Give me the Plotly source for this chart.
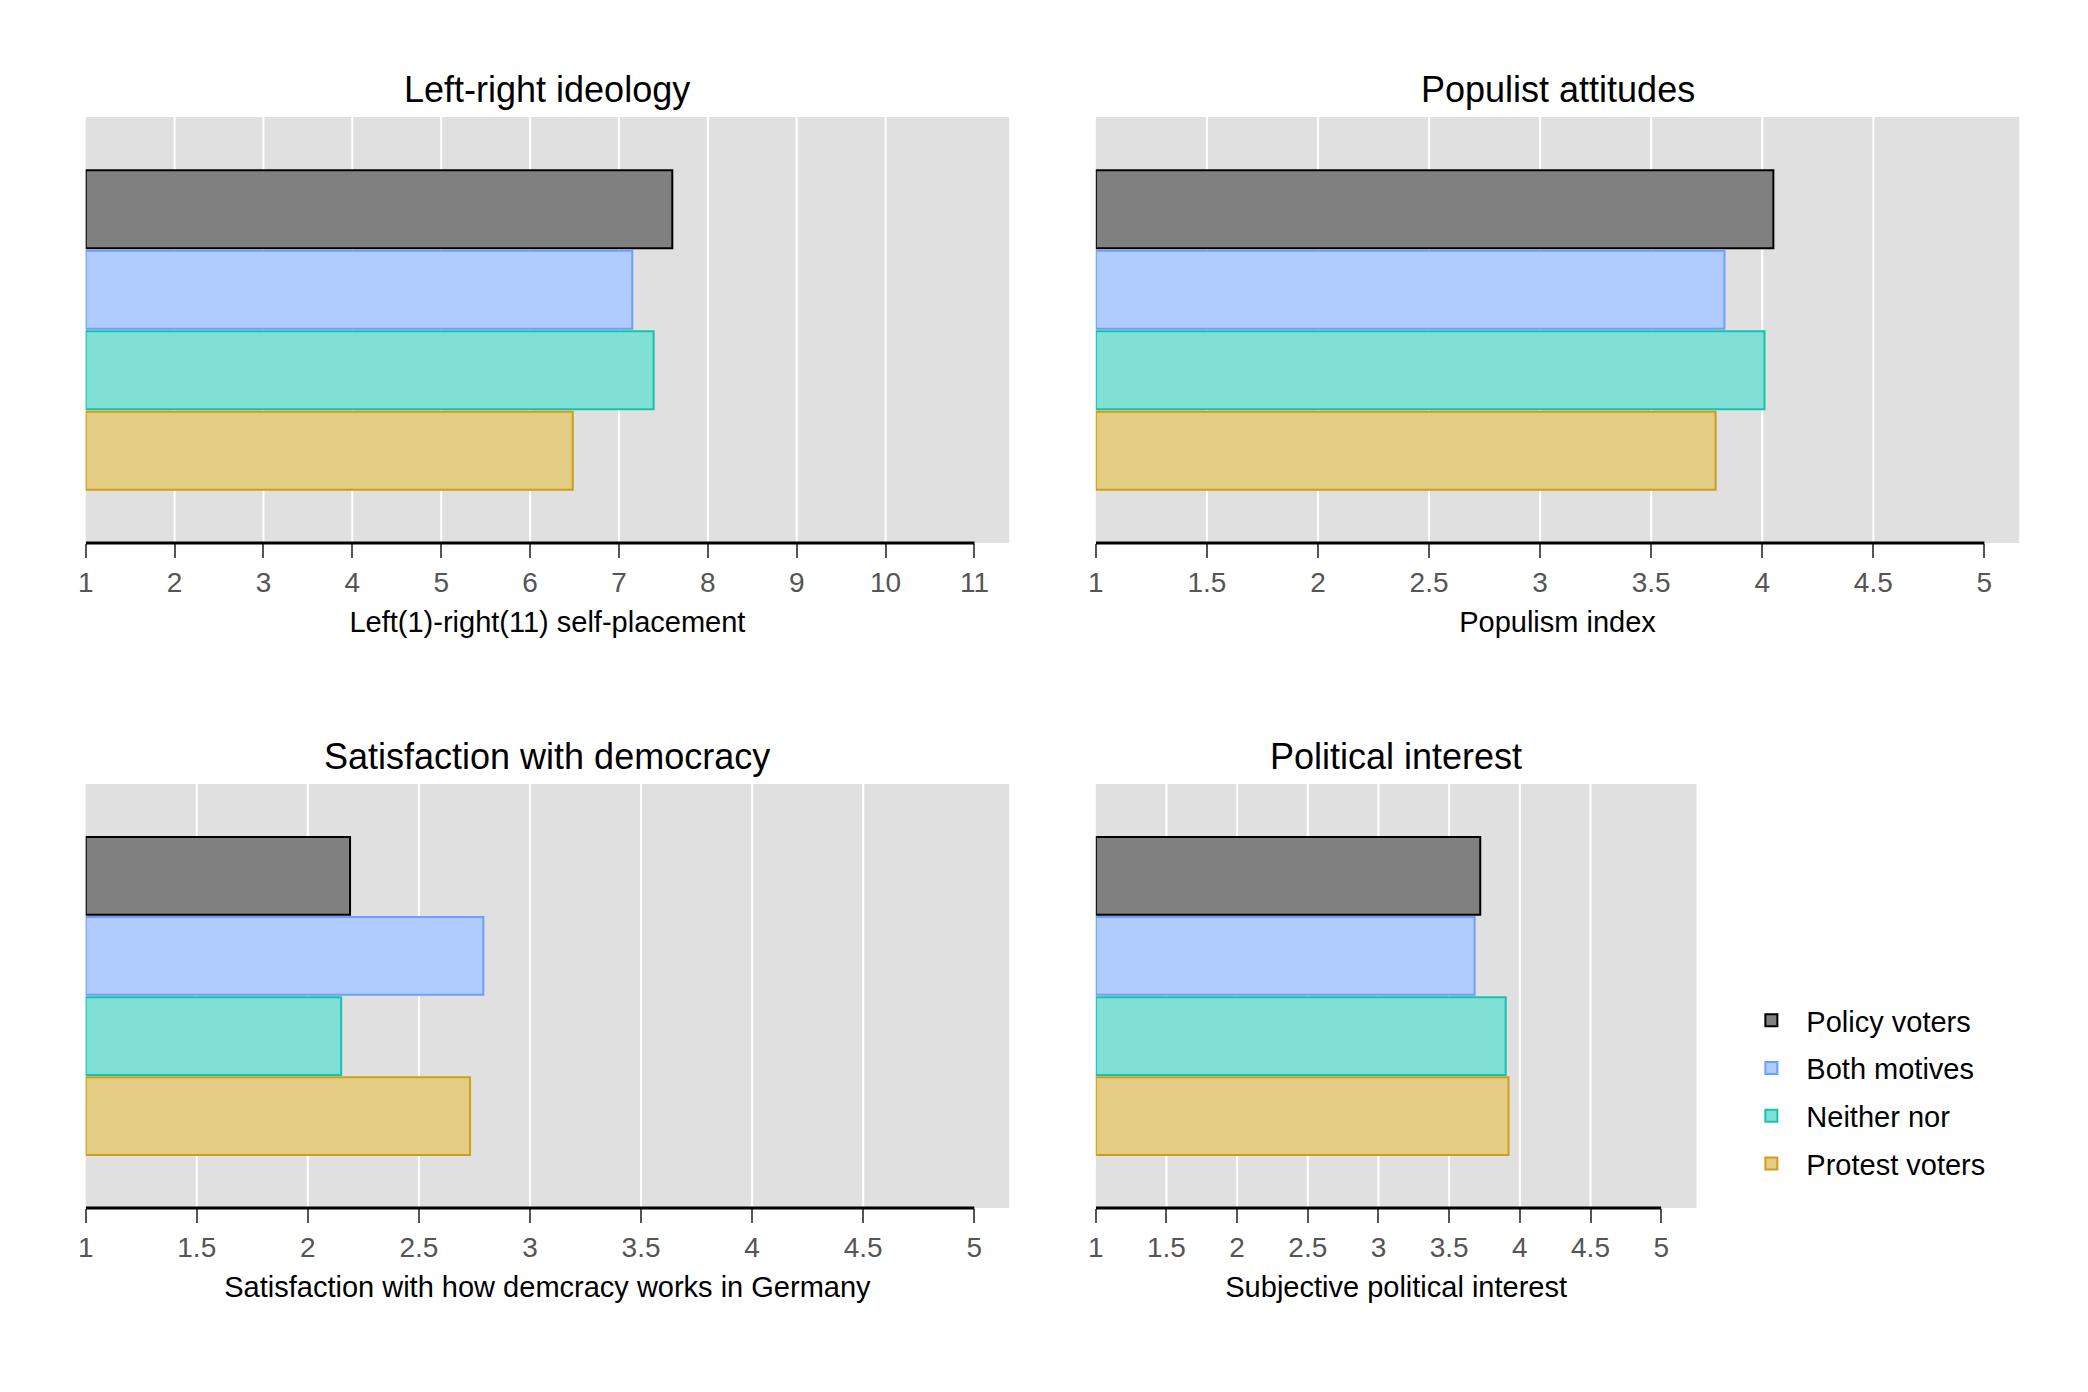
import plotly.graph_objects as go

# ---------------- data ----------------
groups = ["Policy voters", "Both motives", "Neither nor", "Protest voters"]
fill_colors = ["#808080", "#B0CCFF", "#80E0D6", "#E4CD82"]
line_colors = ["#000000", "#6C9EFF", "#14C2B0", "#CCA014"]

panel_titles = ["Left-right ideology", "Populist attitudes",
                "Satisfaction with democracy", "Political interest"]
axis_titles = ["Left(1)-right(11) self-placement", "Populism index",
               "Satisfaction with how demcracy works in Germany",
               "Subjective political interest"]

ticks_lr = [1, 2, 3, 4, 5, 6, 7, 8, 9, 10, 11]
ticks_15 = [1, 1.5, 2, 2.5, 3, 3.5, 4, 4.5, 5]
tick_sets = [ticks_lr, ticks_15, ticks_15, ticks_15]

vals_leftright = [7.60, 7.15, 7.39, 6.48]
vals_populism = [4.05, 3.83, 4.01, 3.79]
vals_satisfaction = [2.19, 2.79, 2.15, 2.73]
vals_interest = [3.72, 3.68, 3.90, 3.92]
panel_values = [vals_leftright, vals_populism, vals_satisfaction, vals_interest]

# ---------------- layout constants (pixels) ----------------
W, H = 2088, 1392
# plot-area boxes: (left, right, top, bottom) in px
boxes = [(78, 1005, 117, 543), (1092, 2019, 117, 543),
         (78, 1005, 784, 1208), (1092, 1695, 784, 1208)]
range_right = [11.39, 5.157, 5.157, 5.25]

FONT = "Liberation Sans, Arial, sans-serif"

fig = go.Figure()
layout_axes = {}
annotations = []
shapes = []

for p in range(4):
    xa = "x" if p == 0 else f"x{p+1}"
    ya = "y" if p == 0 else f"y{p+1}"
    lname = "xaxis" if p == 0 else f"xaxis{p+1}"
    yname = "yaxis" if p == 0 else f"yaxis{p+1}"
    ticks = tick_sets[p]
    lo = ticks[0]
    for g in range(4):
        v = panel_values[p][g]
        fig.add_trace(go.Bar(
            x=[v - lo], base=[lo], y=[0], orientation="h",
            name=groups[g], legendgroup=groups[g], showlegend=(p == 0),
            marker=dict(color=fill_colors[g],
                        line=dict(color=line_colors[g], width=2)),
            xaxis=xa, yaxis=ya,
            hovertemplate=groups[g] + ": %{customdata}<extra></extra>",
            customdata=[v],
        ))
    l, r, t, b = boxes[p]
    layout_axes[lname] = dict(
        domain=[l / W, r / W], anchor=ya,
        range=[lo, range_right[p]],
        tickmode="array", tickvals=ticks,
        ticktext=[f"{tv:g}" for tv in ticks],
        showgrid=False, zeroline=False, showline=False,
        ticks="outside", ticklen=14, tickwidth=2, tickcolor="#555555",
        tickfont=dict(family=FONT, size=28, color="#555555"),
        title=dict(text=axis_titles[p], font=dict(family=FONT, size=29, color="#000000"),
                   standoff=15),
    )
    layout_axes[yname] = dict(
        domain=[1 - b / H, 1 - t / H], anchor=xa,
        range=[0.5, -0.5], visible=False, fixedrange=True,
    )
    # white gridlines at interior ticks
    for tv in ticks[1:-1]:
        shapes.append(dict(type="line", xref=xa, yref=f"{ya} domain",
                           x0=tv, x1=tv, y0=0, y1=1, layer="below",
                           line=dict(color="white", width=2)))
    # axis line from first to last tick
    shapes.append(dict(type="line", xref=xa, yref=f"{ya} domain",
                       x0=ticks[0], x1=ticks[-1], y0=0, y1=0, layer="above",
                       line=dict(color="black", width=3)))
    annotations.append(dict(
        text=panel_titles[p], xref=f"{xa} domain", yref=f"{ya} domain",
        x=0.5, y=1, yshift=5, xanchor="center", yanchor="bottom",
        showarrow=False, font=dict(family=FONT, size=36, color="#000000"),
    ))

fig.update_layout(
    width=W, height=H,
    margin=dict(l=0, r=0, t=0, b=0),
    paper_bgcolor="white", plot_bgcolor="#E0E0E0",
    barmode="group", bargap=0.244, bargroupgap=0.03,
    font=dict(family=FONT, size=28, color="#000000"),
    showlegend=True,
    legend=dict(x=1735 / W, y=1 - 995 / H, xanchor="left", yanchor="top",
                traceorder="grouped", tracegroupgap=7, itemwidth=60,
                font=dict(family=FONT, size=29, color="#000000"),
                bgcolor="rgba(0,0,0,0)"),
    annotations=annotations,
    shapes=shapes,
    **layout_axes,
)

fig.write_html("out.html",
               config={"displayModeBar": False},
               post_script="document.body.style.margin='0';"
                           "document.body.style.overflow='hidden';")
